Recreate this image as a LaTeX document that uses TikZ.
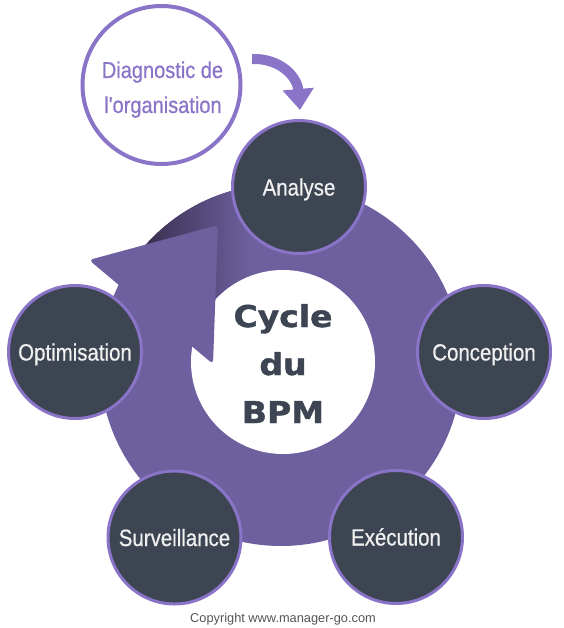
\documentclass[tikz,border=0pt]{standalone}
\usepackage{fontspec}
\usetikzlibrary{arrows.meta}
\newfontfamily\lblfont[FakeStretch=0.87,FakeBold=0.6]{Liberation Sans}
\newfontfamily\plainfont{Liberation Sans}
\newfontfamily\heavyfont[FakeStretch=1.1,FakeBold=1.4]{DejaVu Sans}
\definecolor{ringc}{HTML}{6E5F9E}
\definecolor{shadowc}{HTML}{3A3050}
\definecolor{borderc}{HTML}{8A74C8}
\definecolor{circc}{HTML}{3E4552}
\definecolor{copyc}{HTML}{555555}
\tikzset{
  bubble/.style={circle, draw=borderc, line width=3pt, fill=circc, minimum size=133pt,
    inner sep=0pt, text=white!94!black, font=\lblfont\fontsize{23.5}{28}\selectfont,
    text height=17pt, text depth=0pt},
  diagline/.style={anchor=base, text=borderc, inner sep=0pt, font=\lblfont\fontsize{23}{28}\selectfont},
  centerline/.style={anchor=base, text=circc, inner sep=0pt, font=\heavyfont\bfseries\fontsize{30}{36}\selectfont},
}
\begin{document}
\begin{tikzpicture}[x=1pt,y=-1pt]
\useasboundingbox (0,0) rectangle (563,628);
% ring
\fill[ringc] (281,365) circle (181pt);
\begin{scope}
  \clip (281,365) circle (181pt);
  \clip (80,140) -- (262,140) -- (262,370) -- (213,370) -- (215,228) -- (92,260) -- (80,262) -- cycle;
  \fill[shadowc] (80,140) rectangle (145.5,380);
  \shade[left color=shadowc, right color=ringc] (145,140) rectangle (250,380);
\end{scope}
\fill[white] (283,362) circle (92pt);
% arrowhead of the ring
\fill[ringc, rounded corners=4pt] (89,260) -- (218,225) -- (213,364) -- cycle;
% diagnostic
\node[circle, draw=borderc, line width=4pt, fill=white, minimum size=158pt, inner sep=0pt] (diag) at (161.5,85) {};
\node[diagline] (diag1) at (162.5,78) {Diagnostic de};
\node[diagline] (diag2) at (163,113) {l'organisation};
% steps
\node[bubble] (analyse) at (299,187) {Analyse};
\node[bubble] (conception) at (484,352) {Conception};
\node[bubble] (execution) at (396,537) {Exécution};
\node[bubble] (surveillance) at (174.5,537.5) {Surveillance};
\node[bubble] (optimisation) at (75,352) {Optimisation};
% curved arrow
\coordinate (arrS) at (252,59);
\coordinate (arrE) at (300,110);
\draw[borderc, line width=10pt, -{Triangle[width=30pt,length=21pt]}] (arrS) .. controls (278,58) and (297,75) .. (arrE);
% centre text
\node[centerline] (c1) at (283,327) {Cycle};
\node[centerline] (c2) at (283,375) {du};
\node[centerline] (c3) at (283,423) {BPM};
% copyright
\node[anchor=base, inner sep=0pt, text=copyc, font=\plainfont\fontsize{12.8}{15}\selectfont] (copy) at (283,622) {Copyright www.manager-go.com};
\end{tikzpicture}
\end{document}
